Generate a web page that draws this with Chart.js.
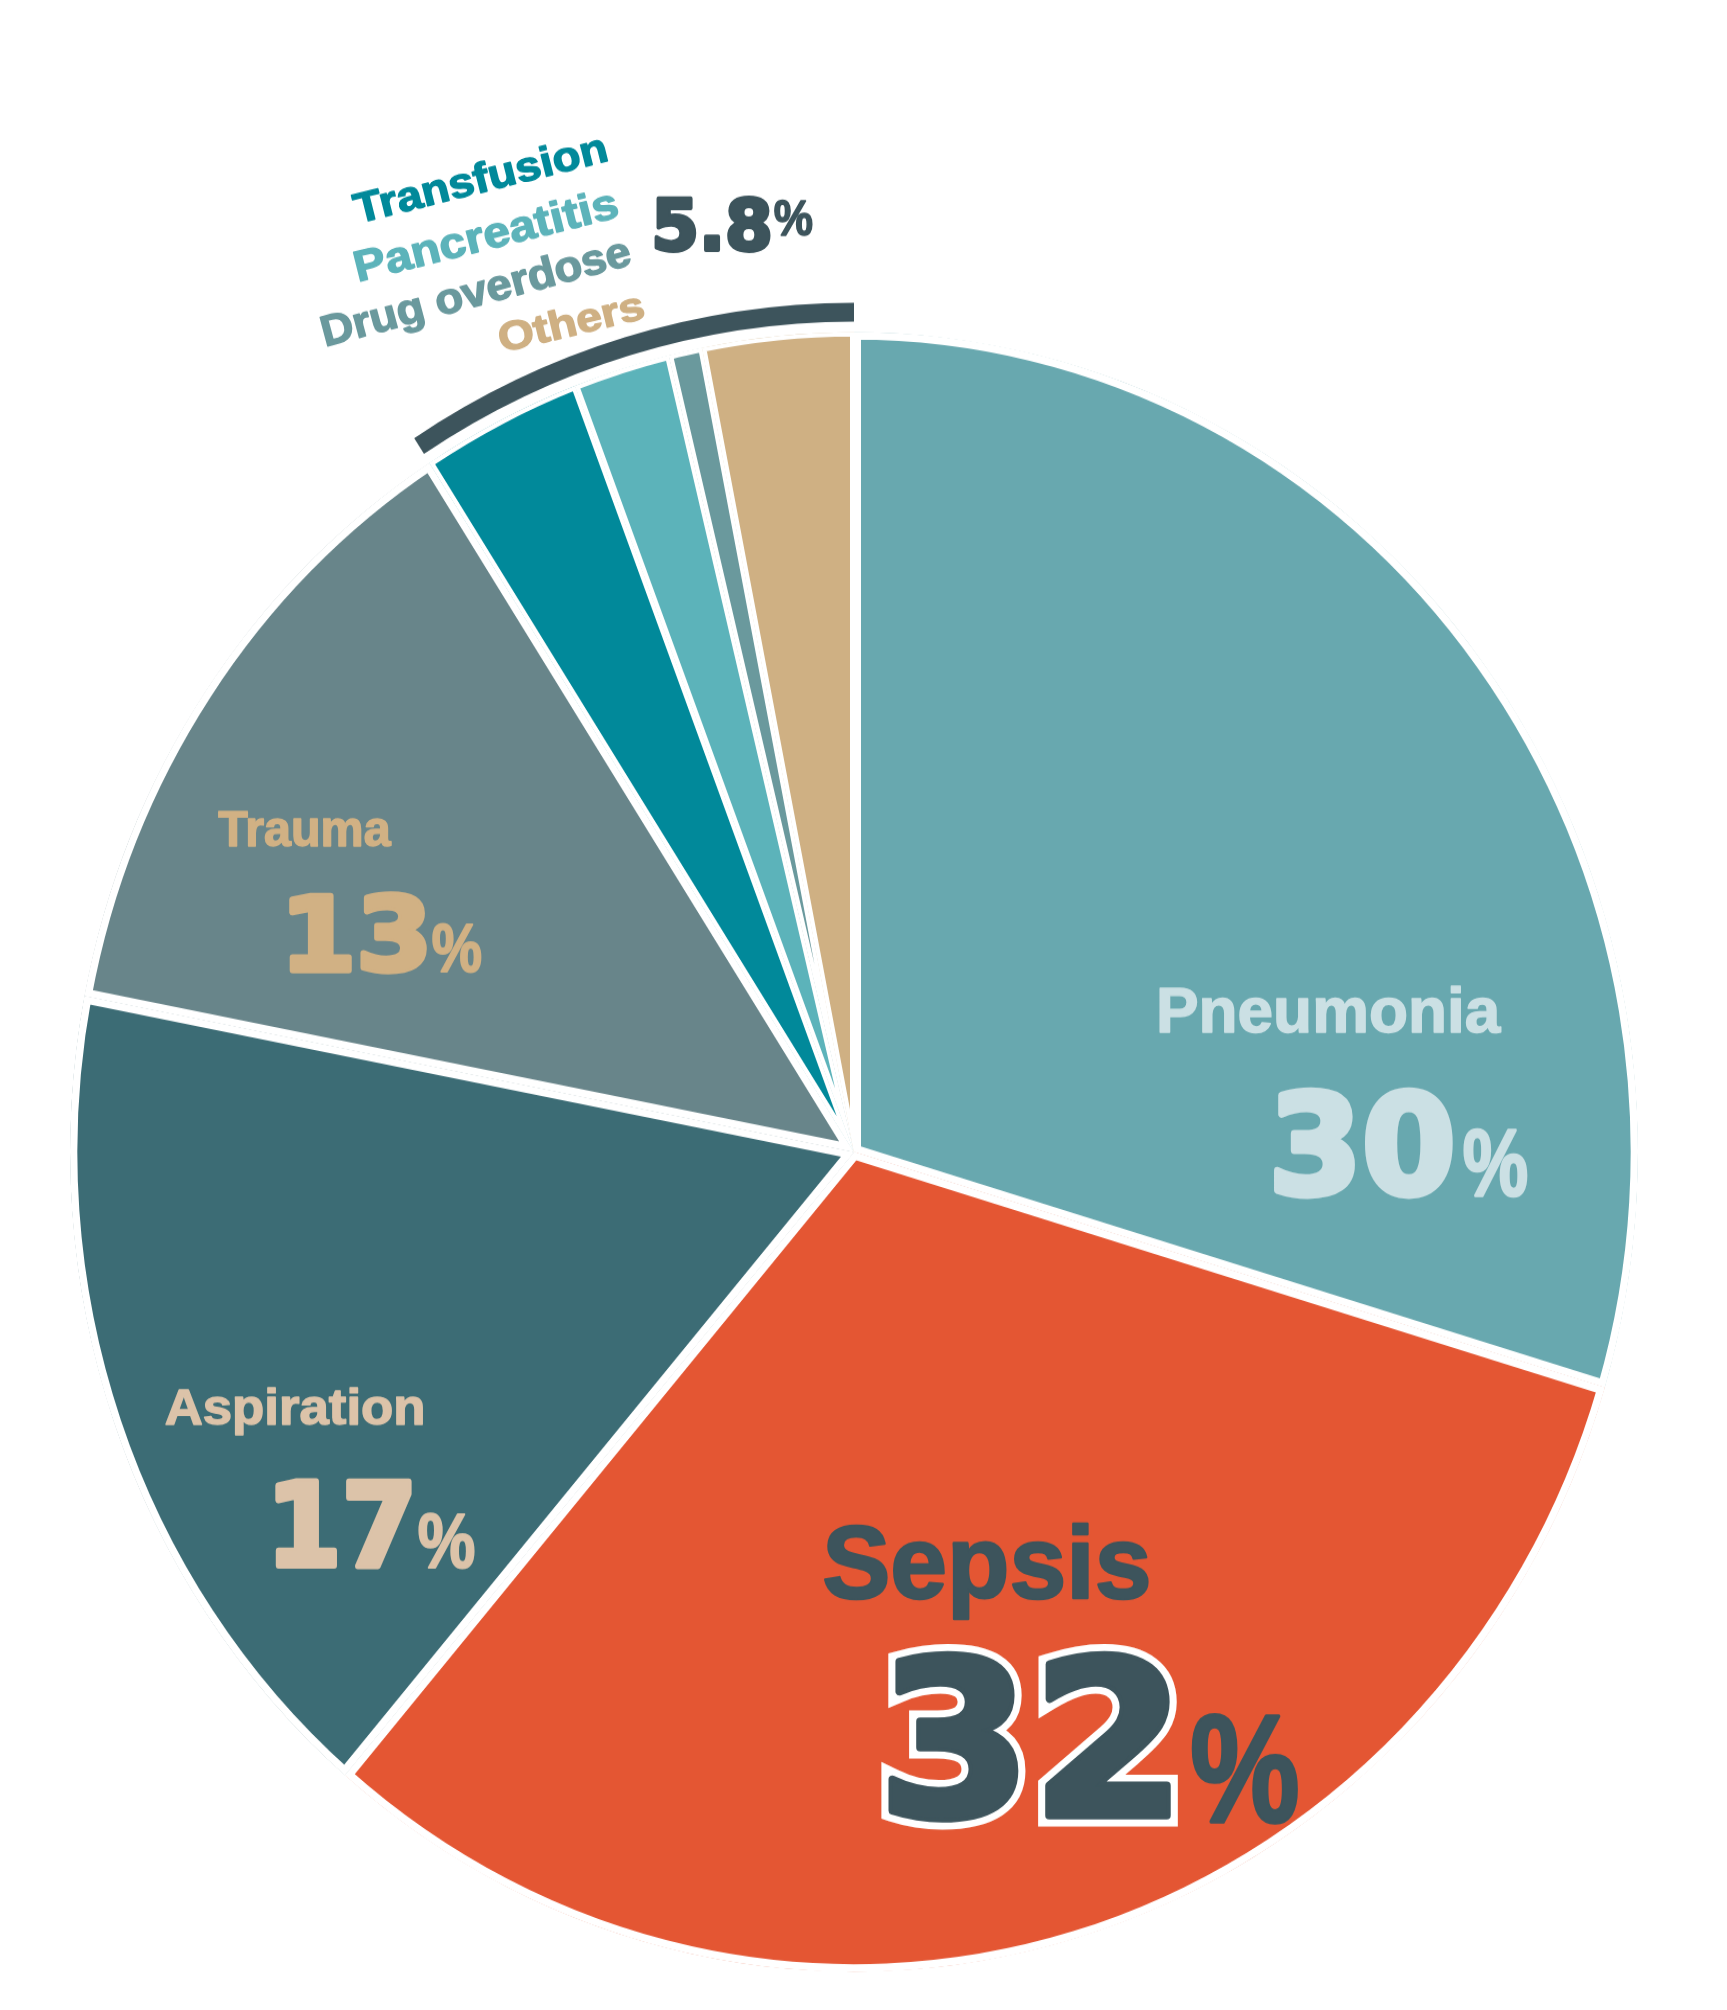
<!DOCTYPE html>
<html>
<head>
<meta charset="utf-8">
<script src="https://cdn.jsdelivr.net/npm/chart.js@4.4.1/dist/chart.umd.min.js"></script>
<style>html,body{margin:0;padding:0;background:#ffffff;}</style>
</head>
<body>
<canvas id="c" width="1727" height="1922" style="display:block;width:1727px;height:2010px"></canvas>
<script>
// ---------- data ----------
const categories = ['Pneumonia', 'Sepsis', 'Aspiration', 'Trauma', 'Transfusion', 'Pancreatitis', 'Drug overdose', 'Others'];
const shares = [30, 32, 17, 13, 3.36, 2.02, 0.70, 3.14];
const shownPercents = ['30', '32', '17', '13'];
const groupPercent = '5.8';
const groupMembers = [4, 5, 6, 7];

// ---------- styles ----------
const sliceColors = ['#68a8af', '#e45633', '#3c6c75', '#68858a', '#01899a', '#5cb3ba', '#6a999d', '#cfb083'];
const sliceGap = [7, 7, 7, 7, 4, 4, 4, 4];
const bracketColor = '#3d545c';

const bigSum = shares.filter((v, i) => !groupMembers.includes(i)).reduce((a, b) => a + b, 0);
const groupSum = groupMembers.map(i => shares[i]).reduce((a, b) => a + b, 0);

const OUT_H = 2010;
const FONT_LABEL = '"Liberation Sans", Arial, sans-serif';
const FONT_DIGIT = '"DejaVu Sans", sans-serif';

const textSpecs = [
  {text: categories[0], font: FONT_LABEL, color: '#cbe0e4', x: 1159, y: 1033, w: 343, h: 48, heavy: 1.5},
  {text: shownPercents[0], font: FONT_DIGIT, color: '#cbe0e4', x: 1273, y: 1197, w: 180, h: 110, heavy: 7},
  {text: '%', font: FONT_LABEL, color: '#cbe0e4', x: 1463, y: 1197, w: 65, h: 69, heavy: 2.5},

  {text: categories[3], font: FONT_LABEL, color: '#d1b184', x: 218, y: 847, w: 174, h: 36, heavy: 1.5},
  {text: shownPercents[3], font: FONT_DIGIT, color: '#d1b184', x: 289, y: 973, w: 138, h: 83, heavy: 6},
  {text: '%', font: FONT_LABEL, color: '#d1b184', x: 432, y: 973, w: 50, h: 50, heavy: 2},

  {text: categories[2], font: FONT_LABEL, color: '#dcc3a9', x: 165, y: 1425, w: 258, h: 38, heavy: 1.5},
  {text: shownPercents[2], font: FONT_DIGIT, color: '#dcc3a9', x: 275, y: 1569, w: 137, h: 91, heavy: 6},
  {text: '%', font: FONT_LABEL, color: '#dcc3a9', x: 418, y: 1569, w: 57, h: 56, heavy: 2},

  {text: categories[1], font: FONT_LABEL, color: '#3d545c', x: 823, y: 1599, w: 326, h: 78, heavy: 2.5},
  {text: shownPercents[1], font: FONT_DIGIT, color: '#3d545c', x: 887, y: 1820, w: 284, h: 170, heavy: 8, outline: 7, outlineColor: '#ffffff'},
  {text: '%', font: FONT_LABEL, color: '#3d545c', x: 1191, y: 1824, w: 108, h: 111, heavy: 3.5},

  {text: categories[4], font: FONT_LABEL, color: '#01899a', x: 358, y: 224, w: 258, h: 32, angle: -14, heavy: 1.5},
  {text: categories[5], font: FONT_LABEL, color: '#5cb3ba', x: 360, y: 282, w: 268, h: 33, angle: -14, heavy: 1.5},
  {text: categories[6], font: FONT_LABEL, color: '#6a999d', x: 327, y: 347, w: 317, h: 33, angle: -15, heavy: 1.5},
  {text: categories[7], font: FONT_LABEL, color: '#cfb083', x: 503, y: 353, w: 147, h: 31, angle: -13.5, heavy: 1.5},

  {text: groupPercent, font: FONT_DIGIT, color: '#3d545c', x: 654, y: 252, w: 117, h: 57, heavy: 4},
  {text: '%', font: FONT_LABEL, color: '#3d545c', x: 774, y: 236, w: 39, h: 36, heavy: 1.5}
];

function fitText(ctx, t) {
  ctx.save();
  ctx.font = 'bold 100px ' + t.font;
  ctx.textAlign = 'left';
  ctx.textBaseline = 'alphabetic';
  const m = ctx.measureText(t.text);
  const inkW = m.actualBoundingBoxRight + m.actualBoundingBoxLeft;
  const inkH = m.actualBoundingBoxAscent;
  const hv = t.heavy || 0;
  const w = t.w - hv, h = t.h - hv;
  const sx = w / inkW, sy = h / inkH;
  ctx.translate(t.x, t.y);
  if (t.angle) ctx.rotate(t.angle * Math.PI / 180);
  ctx.translate(hv / 2, -hv / 2);
  ctx.scale(sx, sy);
  const avg = (sx + sy) / 2;
  const ox = m.actualBoundingBoxLeft;
  if (t.outline) {
    ctx.lineJoin = 'miter';
    ctx.miterLimit = 3;
    ctx.strokeStyle = t.outlineColor;
    ctx.lineWidth = (2 * t.outline + hv) / avg;
    ctx.strokeText(t.text, ox, 0);
  }
  if (hv) {
    ctx.lineJoin = 'round';
    ctx.strokeStyle = t.color;
    ctx.lineWidth = hv / avg;
    ctx.strokeText(t.text, ox, 0);
  }
  ctx.fillStyle = t.color;
  ctx.fillText(t.text, ox, 0);
  ctx.restore();
}

const bgPlugin = {
  id: 'bg',
  beforeDraw(chart) {
    const ctx = chart.ctx;
    ctx.save();
    ctx.fillStyle = '#ffffff';
    ctx.fillRect(0, 0, chart.width, chart.height);
    ctx.restore();
  }
};

const labelPlugin = {
  id: 'labels',
  afterDraw(chart) {
    const ctx = chart.ctx;
    ctx.save();
    ctx.scale(1, chart.height / OUT_H);
    textSpecs.forEach(t => fitText(ctx, t));
    ctx.restore();
  }
};

const R = 812;
new Chart(document.getElementById('c'), {
  type: 'pie',
  data: {
    labels: categories,
    datasets: [
      {
        label: 'bracket',
        data: [bigSum, groupSum],
        backgroundColor: ['rgba(0,0,0,0)', bracketColor],
        borderWidth: 0,
        weight: 18,
        radius: R
      },
      {
        label: 'spacer',
        data: [1],
        backgroundColor: ['rgba(0,0,0,0)'],
        borderWidth: 0,
        weight: 10,
        radius: R
      },
      {
        label: 'causes',
        data: shares,
        backgroundColor: sliceColors,
        borderColor: '#ffffff',
        borderWidth: sliceGap,
        borderAlign: 'inner',
        weight: 784,
        radius: R
      }
    ]
  },
  options: {
    responsive: false,
    devicePixelRatio: 1,
    animation: false,
    events: [],
    radius: R,
    cutout: 0,
    rotation: 0,
    layout: {padding: {left: 0, right: 19, top: 281, bottom: 0}},
    plugins: {
      legend: {display: false},
      tooltip: {enabled: false},
      title: {display: false}
    }
  },
  plugins: [bgPlugin, labelPlugin]
});
</script>
</body>
</html>
